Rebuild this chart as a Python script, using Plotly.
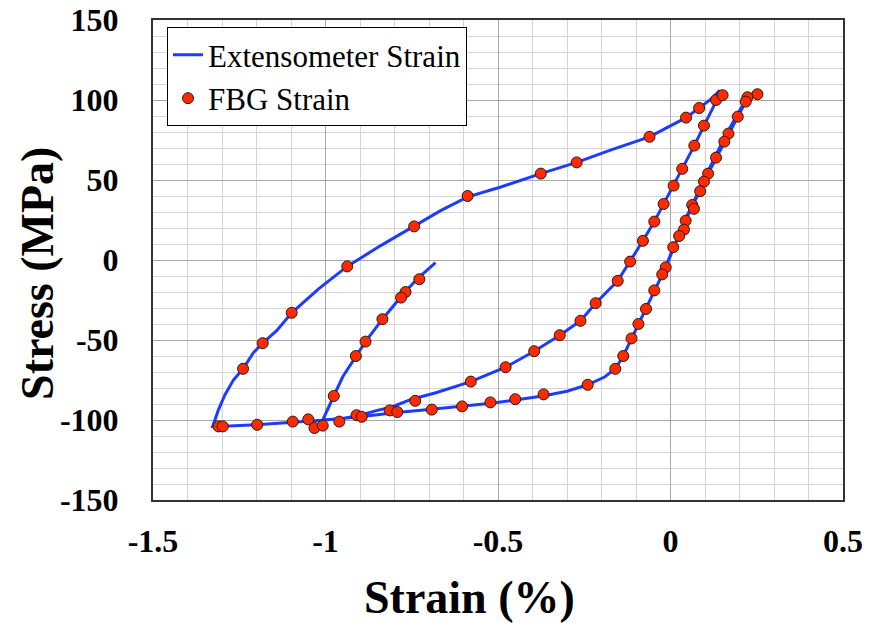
import plotly.graph_objects as go

# Extensometer strain path (%), stress (MPa)
ext_strain = [-0.681, -0.73, -0.77, -0.835, -0.884, -0.912, -0.95, -0.976, -1.008,
              -0.95, -0.90, -0.85, -0.81, -0.75, -0.68, -0.579, -0.478, -0.395, -0.321, -0.261,
              -0.217, -0.153, -0.117, -0.080, -0.047, -0.020, 0.009, 0.034, 0.069, 0.097, 0.125, 0.143,
              0.12, 0.083, 0.045, -0.061, -0.17, -0.272, -0.376, -0.494, -0.588, -0.665, -0.743, -0.84,
              -0.937, -1.02, -1.098, -1.141, -1.182, -1.209, -1.239, -1.267, -1.291, -1.311, -1.327,
              -1.31, -1.2, -1.1, -1.0, -0.9, -0.8, -0.7, -0.6, -0.52, -0.45, -0.37, -0.30, -0.24, -0.19,
              -0.16, -0.137, -0.113, -0.093, -0.071, -0.047, -0.024, -0.014, 0.008, 0.025, 0.039, 0.044,
              0.063, 0.086, 0.097, 0.109, 0.132, 0.156, 0.168, 0.195, 0.218, 0.23, 0.25,
              0.21, 0.16, 0.11, 0.07, 0.04, 0.01, -0.005, -0.02]
ext_stress = [-1.7, -11, -20, -37, -51, -60, -73, -85, -100,
              -99, -97, -94, -92, -87, -83, -76, -67, -57, -47, -38,
              -27, -13, -1, 12, 24, 35, 46.5, 57, 71.5, 84, 96, 106,
              101, 95, 89, 77, 69, 61, 54, 45.5, 39.5, 31, 21, 9,
              -4, -18, -33, -44, -52, -58, -68, -75, -84, -94, -104,
              -104, -103, -101.5, -100, -98, -95.5, -93.5, -91.5, -89.5, -87.5, -85, -82, -78, -73,
              -68, -60, -49, -40, -30.6, -19, -9, -4.6, 8, 15, 19, 24.6,
              34, 43, 49, 54, 64, 74, 79, 89.6, 99, 103, 105,
              97, 78, 56, 38, 24, 8, 0, -8]

# FBG strain (%), stress (MPa)
fbg_strain = [-0.743, -0.588, -0.376, -0.272, -0.061, 0.045, 0.083, 0.132, 0.151,
              0.097, 0.069, 0.034, 0.009, -0.020, -0.047, -0.080, -0.117,
              0.252, 0.223, 0.218, 0.195, 0.168, 0.156, 0.132, 0.109, 0.097, 0.086, 0.063, 0.068,
              0.044, 0.039, 0.025, 0.008,
              -0.014, -0.024, -0.047, -0.071, -0.093, -0.113, -0.137, -0.160, -0.240, -0.368, -0.450,
              -0.153, -0.217, -0.261, -0.321, -0.395, -0.478,
              -0.937, -1.098, -1.182, -1.239, -1.310, -1.298, -1.198, -1.095, -1.050, -1.032, -1.008,
              -0.960, -0.910, -0.895, -0.814, -0.792, -0.692, -0.604, -0.522, -0.740, -0.579,
              -0.728, -0.768, -0.781, -0.835, -0.884, -0.912, -0.976]
fbg_stress = [21, 40, 54, 61, 77, 89, 95, 100, 103,
              84, 71.5, 57, 46.5, 35, 24, 12, -1,
              103.6, 101.7, 99, 89.6, 79, 74, 64, 54, 49, 43, 34.4, 32,
              24.6, 19, 15, 8,
              -4.6, -9, -19, -30.6, -40, -49, -60, -68, -78, -84, -87,
              -13, -27, -38, -47, -57, -67,
              -4, -33, -52, -68, -104, -104, -103, -101, -99.6, -105, -103.5,
              -101, -97, -98, -94, -95, -93.5, -91.5, -89, -88, -76,
              -12, -20, -23.5, -37, -51, -60, -85]

x_ticks = [-1.5, -1, -0.5, 0, 0.5]
x_labels = ["-1.5", "-1", "-0.5", "0", "0.5"]
y_ticks = [-150, -100, -50, 0, 50, 100, 150]
y_labels = ["-150", "-100", "-50", "0", "50", "100", "150"]

FONT = "Liberation Serif"


def tick_html(t):
    return "<span style='font-family:Liberation Serif;font-weight:bold'>%s</span>" % t


fig = go.Figure()
fig.add_trace(go.Scatter(
    x=ext_strain, y=ext_stress, mode="lines", name="Extensometer Strain",
    line=dict(color="#1E3CFF", width=3)))
fig.add_trace(go.Scatter(
    x=fbg_strain, y=fbg_stress, mode="markers", name="FBG Strain",
    marker=dict(color="#FF2A00", size=11, line=dict(color="#2a1a10", width=1))))

fig.update_xaxes(
    range=[-1.5, 0.5], tickmode="array", tickvals=x_ticks,
    ticktext=[tick_html(t) for t in x_labels],
    showline=True, linecolor="#333333", linewidth=2, mirror=True,
    ticks="outside", ticklen=12, tickcolor="rgba(0,0,0,0)",
    zeroline=False, automargin=False,
    showgrid=True, gridcolor="#A8A8A8", gridwidth=1,
    minor=dict(dtick=0.1, showgrid=True, gridcolor="#D4D4D4", gridwidth=1),
    tickfont=dict(family=FONT, size=32, color="black"))
fig.update_yaxes(
    range=[-150, 150], tickmode="array", tickvals=y_ticks,
    ticktext=[tick_html(t) for t in y_labels],
    showline=True, linecolor="#333333", linewidth=2, mirror=True,
    ticks="outside", ticklen=26, tickcolor="rgba(0,0,0,0)",
    zeroline=False, automargin=False,
    showgrid=True, gridcolor="#A8A8A8", gridwidth=1,
    minor=dict(dtick=10, showgrid=True, gridcolor="#D4D4D4", gridwidth=1),
    tickfont=dict(family=FONT, size=32, color="black"))

fig.update_layout(
    width=869, height=623,
    font=dict(family=FONT, color="black"),
    margin=dict(l=153, r=26, t=20, b=123, autoexpand=False),
    plot_bgcolor="white", paper_bgcolor="white",
    showlegend=True,
    legend=dict(x=0.0203, y=0.985, xanchor="left", yanchor="top",
                bgcolor="white", bordercolor="black", borderwidth=1,
                font=dict(family=FONT, size=31, color="black"),
                tracegroupgap=0, itemwidth=30, entrywidth=280),
    annotations=[
        dict(text="<b>Strain (%)</b>", x=0.458, y=-0.204, xref="paper", yref="paper",
             xanchor="center", yanchor="middle", showarrow=False,
             font=dict(family=FONT, size=46, color="black")),
        dict(text="<b>Stress (MPa)</b>", x=-0.1667, y=0.473, xref="paper", yref="paper",
             xanchor="center", yanchor="middle", showarrow=False, textangle=-90,
             font=dict(family=FONT, size=46, color="black")),
    ],
)

fig.write_html("out.html")
